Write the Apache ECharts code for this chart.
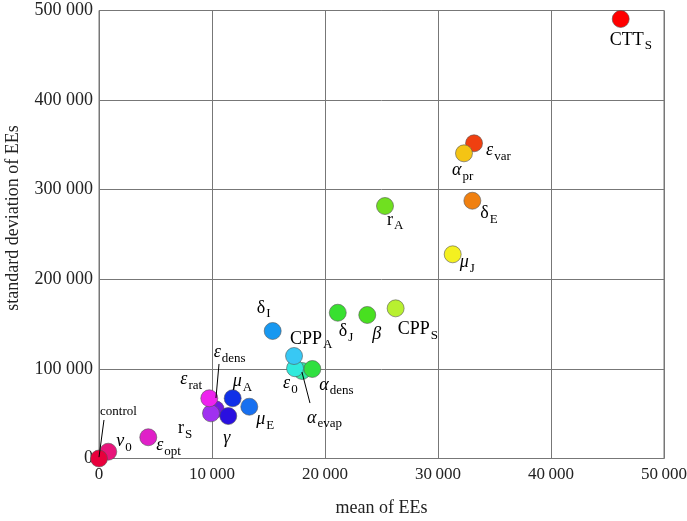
<!DOCTYPE html>
<html><head><meta charset="utf-8">
<script src="https://cdn.jsdelivr.net/npm/echarts@6/dist/echarts.min.js"></script>
<style>html,body{margin:0;padding:0;background:#fff}#c{width:687px;height:521px}</style>
</head><body><div id="c"></div>
<script>
// data (draw order: later on top)
const names = ['alpha_evap','eps_dens','r_S','eps_rat','gamma','mu_A','mu_E','v0','control','eps_opt','delta_I','alpha_dens','eps_0','CPP_A','delta_J','beta','CPP_S','r_A','mu_J','delta_E','eps_var','alpha_pr','CTT_S'];
const meanEE = [17970,10330,9910,9760,11440,11830,13300,820,0,4360,15370,18880,17350,17260,21130,23740,26250,25310,31300,33040,33190,32300,46170];
const sdEE   = [97700,54900,50400,67200,47400,67200,57800,7600,0,23700,142300,99900,100700,114400,162700,160200,167600,281800,227900,287700,351800,340600,490500];
const colors = ['#30e8a0','#7018e0','#a030f0','#ee22ee','#2a10e0','#1030e8','#1870f0','#e8147a','#e8003c','#e020c8','#1898f0','#30e040','#30eadc','#38c8f4','#38e030','#48e020','#b8f030','#70e020','#f4f020','#f08010','#f04010','#f4c414','#ff0000'];
const labels = {
  alpha_evap:'{gi|α}{sb|evap}', eps_dens:'{gi|ε}{sb|dens}', r_S:'{m|r}{sb|S}', eps_rat:'{gi|ε}{sb|rat}',
  gamma:'{gi|γ}', mu_A:'{gi|μ}{sb|A}', mu_E:'{gi|μ}{sb|E}', v0:'{gi|ν}{sb|0}', control:'{c|control}',
  eps_opt:'{gi|ε}{sb|opt}', delta_I:'{m|δ}{sb|I}', alpha_dens:'{gi|α}{sb|dens}', eps_0:'{gi|ε}{sb|0}',
  CPP_A:'{m|CPP}{sb|A}', delta_J:'{m|δ}{sb|J}', beta:'{gi|β}', CPP_S:'{m|CPP}{sb|S}', r_A:'{m|r}{sb|A}',
  mu_J:'{gi|μ}{sb|J}', delta_E:'{m|δ}{sb|E}', eps_var:'{gi|ε}{sb|var}', alpha_pr:'{gi|α}{sb|pr}', CTT_S:'{m|CTT}{sb|S}'
};
const xTicks = [0,10000,20000,30000,40000,50000];
const yTicks = [0,100000,200000,300000,400000,500000];
// leader lines [from label, to point] in data units
const leaders = [
  [[440,43000],[0,1500]],
  [[10620,105500],[10350,67500]],
  [[18670,61900],[17960,96500]]
];
// label offsets (px, left edge / vertical middle relative to the point centre)
const offs = {
  alpha_evap:[5,47], eps_dens:[-2,-57], r_S:[-33,15], eps_rat:[-29,-19], gamma:[-5,22], mu_A:[0,-17], mu_E:[7,13],
  v0:[8,-10], control:[1,-47], eps_opt:[8,8], delta_I:[-16,-23], alpha_dens:[7,16], eps_0:[-12,15],
  CPP_A:[-4,-17], delta_J:[1,19], beta:[5,19], CPP_S:[2,21], r_A:[2,14], mu_J:[7,8], delta_E:[8,13],
  eps_var:[12,7], alpha_pr:[-12,17], CTT_S:[-11,21]
};
const group = (v, sep) => v === 0 ? '0' : String(v).replace(/\B(?=(\d{3})+(?!\d))/g, sep);
const serif = '"Liberation Serif", "DejaVu Serif", serif';
const rich = {
  m:{fontFamily:serif,fontSize:18,color:'#000'},
  gi:{fontFamily:serif,fontSize:18,fontStyle:'italic',color:'#000'},
  sb:{fontFamily:serif,fontSize:13,color:'#000',padding:[12,0,0,1]},
  c:{fontFamily:serif,fontSize:13,color:'#000'}
};
const data = names.map((n,i)=>({
  value:[meanEE[i], sdEE[i]],
  itemStyle:{color:colors[i]},
  label:{show:true, position:'inside', align:'left', verticalAlign:'middle', offset:offs[n], formatter:labels[n], rich:rich}
}));
const chart = echarts.init(document.getElementById('c'), null, {renderer:'canvas'});
chart.setOption({
  animation:false,
  backgroundColor:'#fff',
  grid:{left:99, right:23, top:10.5, bottom:62.5, show:true, borderColor:'#777', borderWidth:1, containLabel:false, outerBoundsMode:'none'},
  xAxis:{type:'value', min:xTicks[0], max:xTicks[xTicks.length-1], interval:10000, name:'mean of EEs', nameLocation:'middle', nameGap:41,
    nameTextStyle:{fontFamily:serif,fontSize:18,color:'#222'},
    axisLine:{show:true,lineStyle:{color:'#777'}}, axisTick:{show:false},
    axisLabel:{fontFamily:serif,fontSize:17,color:'#222',margin:8,formatter:v=>group(v,'\u2009')},
    splitLine:{show:true,lineStyle:{color:'#777',width:1}}},
  yAxis:{type:'value', min:yTicks[0], max:yTicks[yTicks.length-1], interval:100000, name:'standard deviation of EEs', nameLocation:'middle', nameGap:77,
    nameTextStyle:{fontFamily:serif,fontSize:18,color:'#222',padding:[0,0,0,33]},
    axisLine:{show:true,lineStyle:{color:'#777'}}, axisTick:{show:false},
    axisLabel:{fontFamily:serif,fontSize:18,color:'#222',margin:6,formatter:v=>group(v,' ')},
    splitLine:{show:true,lineStyle:{color:'#777',width:1}}},
  series:[{
    type:'scatter', symbol:'circle', symbolSize:17,
    itemStyle:{borderColor:'#555',borderWidth:0.6,opacity:1},
    data:data,
    markLine:{silent:true, symbol:'none', label:{show:false}, animation:false,
      lineStyle:{color:'#000',width:1,type:'solid'},
      data:leaders.map(l=>[{coord:l[0]},{coord:l[1]}])}
  }]
});
</script></body></html>
